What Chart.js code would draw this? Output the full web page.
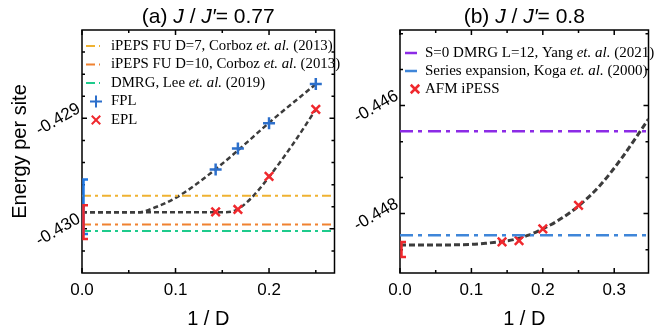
<!DOCTYPE html>
<html>
<head>
<meta charset="utf-8">
<script src="https://cdn.jsdelivr.net/npm/chart.js@4.4.1/dist/chart.umd.min.js"></script>
<style>
  html, body { margin: 0; padding: 0; background: #fff; }
  #wrap { position: relative; width: 657px; height: 333px; overflow: hidden; }
  .panel { position: absolute; top: 0; }
  #pa { left: 0; }
  #pb { left: 343px; }
</style>
</head>
<body>
<div id="wrap">
  <div class="panel" id="pa"><canvas id="chartA" width="343" height="333"></canvas></div>
  <div class="panel" id="pb"><canvas id="chartB" width="314" height="333"></canvas></div>
</div>
<script>
// ---- panel (a): J/J' = 0.77 ----
const invD = [0.1429, 0.1667, 0.2, 0.25]
const fplA = [-0.429464, -0.429273, -0.429045, -0.428690]
const eplA = [-0.429847, -0.429825, -0.429526, -0.428919]
const fplFitX = [0, 0.03, 0.06, 0.08, 0.10, 0.12, 0.1429, 0.1667, 0.2, 0.25]
const fplFitY = [-0.42985, -0.42985, -0.42985, -0.42980, -0.42972, -0.42961, -0.42946, -0.42929, -0.42904, -0.42869]
const eplFitX = [0, 0.05, 0.10, 0.15, 0.165, 0.18, 0.2, 0.225, 0.25]
const eplFitY = [-0.42985, -0.42985, -0.42985, -0.42985, -0.42983, -0.42973, -0.42953, -0.42924, -0.42892]
const ePepsD7 = -0.42970
const ePepsD10 = -0.42996
const eDmrgLee = -0.43002
const spanA = [0, 0.27]
const errFplA = [-0.429553, -0.430046]
const errEplA = [-0.429787, -0.430092]
const xMajorA = [0, 0.1, 0.2]
const xMinorA = [0.05, 0.15, 0.25]
const yMajorA = [-0.430, -0.429]
const yMinorA = [-0.4302, -0.4298, -0.4296, -0.4294, -0.4292, -0.4288, -0.4286, -0.4284]

// ---- panel (b): J/J' = 0.8 ----
const afmX = [0.1429, 0.1667, 0.2, 0.25]
const afmY = [-0.448524, -0.448500, -0.448283, -0.447846]
const afmFitX = [0, 0.05, 0.10, 0.12, 0.14, 0.16, 0.18, 0.20, 0.22, 0.25, 0.28, 0.31, 0.348]
const afmFitY = [-0.44858, -0.44858, -0.44857, -0.44855, -0.44852, -0.44848, -0.44840, -0.44828, -0.44814, -0.44786, -0.44748, -0.44698, -0.44625]
const eDmrgYang = -0.446476
const eSeriesKoga = -0.448401
const spanB = [0, 0.348]
const errAfmB = [-0.448524, -0.448802]
const xMajorB = [0, 0.1, 0.2, 0.3]
const xMinorB = [0.05, 0.15, 0.25]
const yMajorB = [-0.448, -0.446]
const yMinorB = [-0.44867, -0.44733, -0.44667, -0.44533, -0.44467]

const SANS = "'Liberation Sans', Arial, sans-serif"
const SERIF = "'Liberation Serif', 'Times New Roman', serif"
const pts = (xs, ys) => xs.map((x, i) => ({ x, y: ys[i] }))
const hline = (span, v) => span.map(x => ({ x, y: v }))

function drawRich (ctx, text, x, y, size, family, center) {
  const runs = text.split(/<i>|<\/i>/).map((t, i) => ({ t, it: i % 2 === 1 }))
  const fontOf = r => (r.it ? 'italic ' : '') + size + 'px ' + family
  let w = 0
  runs.forEach(r => { ctx.font = fontOf(r); r.w = ctx.measureText(r.t).width; w += r.w })
  let cx = center ? x - w / 2 : x
  ctx.textAlign = 'left'
  ctx.textBaseline = 'middle'
  ctx.fillStyle = '#000'
  runs.forEach(r => { ctx.font = fontOf(r); ctx.fillText(r.t, cx, y); cx += r.w })
}

// box frame with inward ticks on all four sides
const frameTicks = {
  id: 'frameTicks',
  beforeDatasetsDraw (chart, args, opts) {
    const { ctx, chartArea: a, scales: { x, y } } = chart
    ctx.save()
    ctx.strokeStyle = '#000'
    ctx.lineWidth = 1.5
    ctx.strokeRect(a.left, a.top, a.right - a.left, a.bottom - a.top)
    const mark = (vals, len, horiz) => vals.forEach(v => {
      ctx.beginPath()
      if (horiz) {
        const px = x.getPixelForValue(v)
        ctx.moveTo(px, a.bottom); ctx.lineTo(px, a.bottom - len)
        ctx.moveTo(px, a.top); ctx.lineTo(px, a.top + len)
      } else {
        const py = y.getPixelForValue(v)
        ctx.moveTo(a.left, py); ctx.lineTo(a.left + len, py)
        ctx.moveTo(a.right, py); ctx.lineTo(a.right - len, py)
      }
      ctx.stroke()
    })
    mark(opts.xMajor, 5, true)
    mark(opts.xMinor, 3, true)
    mark(opts.yMajor, 5, false)
    mark(opts.yMinor, 3, false)
    ctx.restore()
  },
  // extrapolation error brackets at 1/D = 0
  afterDatasetsDraw (chart, args, opts) {
    const { ctx, chartArea: a, scales: { y } } = chart
    ctx.save()
    ctx.lineWidth = 2.5
    opts.errBars.forEach(e => {
      const top = y.getPixelForValue(e.vals[0])
      const bot = y.getPixelForValue(e.vals[1])
      const bx = a.left + 1.5
      ctx.strokeStyle = e.color
      ctx.beginPath()
      ctx.moveTo(bx + 4.5, top); ctx.lineTo(bx, top); ctx.lineTo(bx, bot); ctx.lineTo(bx + 4.5, bot)
      ctx.stroke()
    })
    ctx.restore()
  }
}

// legend + title with italic runs
const richText = {
  id: 'richText',
  afterDraw (chart, args, opts) {
    const { ctx, chartArea: a } = chart
    ctx.save()
    drawRich(ctx, opts.title, (a.left + a.right) / 2, 17.5, 21, SANS, true)
    chart.data.datasets.filter(d => d.label).forEach((ds, i) => {
      const y = opts.top + i * opts.gap
      ctx.setLineDash([])
      ctx.strokeStyle = ds.borderColor
      if (ds.showLine === false) {
        Chart.helpers.drawPoint(ctx, { pointStyle: ds.pointStyle, radius: ds.pointRadius, borderWidth: ds.pointBorderWidth }, opts.markerX, y)
      } else {
        ctx.lineWidth = ds.borderWidth
        ctx.setLineDash(ds.borderDash || [])
        ctx.beginPath(); ctx.moveTo(opts.left, y); ctx.lineTo(opts.left + opts.sample, y); ctx.stroke()
      }
      drawRich(ctx, ds.label, opts.textX, y, opts.size, SERIF, false)
    })
    ctx.restore()
  }
}

const refLine = (label, span, v, color, width, dash) => ({
  label, data: hline(span, v), borderColor: color, borderWidth: width, borderDash: dash, pointRadius: 0
})
const markers = (label, data, color, style) => ({
  label, data, showLine: false, borderColor: color, backgroundColor: color,
  pointStyle: style, pointRadius: 6, pointBorderWidth: 2.5
})
const fitLine = (data, dash, width) => ({
  data, borderColor: '#3c3c3c', borderWidth: width, borderDash: dash, pointRadius: 0, cubicInterpolationMode: 'monotone'
})

function axes (xr, yr, xMaj, yMaj, yWidth, yTitle) {
  const tickFont = { family: SANS, size: 17 }
  return {
    x: {
      type: 'linear', min: xr[0], max: xr[1],
      grid: { display: false, drawTicks: false }, border: { display: false },
      afterBuildTicks: s => { s.ticks = xMaj.map(v => ({ value: v })) },
      afterFit: s => { s.height = 60 },
      ticks: { font: tickFont, color: '#000', padding: 7, maxRotation: 0, autoSkip: false, callback: v => v.toFixed(1) },
      title: { display: true, text: '1 / D', color: '#000', font: { family: SANS, size: 20 }, padding: { top: 2, bottom: 2 } }
    },
    y: {
      type: 'linear', min: yr[0], max: yr[1],
      grid: { display: false, drawTicks: false }, border: { display: false },
      afterBuildTicks: s => { s.ticks = yMaj.map(v => ({ value: v })) },
      afterFit: s => { s.width = yWidth },
      ticks: { font: tickFont, color: '#000', padding: 3, minRotation: 30, maxRotation: 30, labelOffset: -11, autoSkip: false, callback: v => v.toFixed(3) },
      title: { display: !!yTitle, text: yTitle, color: '#000', font: { family: SANS, size: 20 }, padding: { top: 8, bottom: 0 } }
    }
  }
}

const baseOpts = { responsive: false, animation: false, events: [], plugins: { legend: { display: false }, tooltip: { enabled: false } } }

new Chart(document.getElementById('chartA'), { // eslint-disable-line
  type: 'line',
  data: {
    datasets: [
      refLine('iPEPS FU D=7, Corboz <i>et. al.</i> (2013)', spanA, ePepsD7, '#EFB232', 2, [9, 4, 3, 4]),
      refLine('iPEPS FU D=10, Corboz <i>et. al.</i> (2013)', spanA, ePepsD10, '#F08230', 2, [9, 4, 3, 4]),
      refLine('DMRG, Lee <i>et. al.</i> (2019)', spanA, eDmrgLee, '#1ECB8C', 2, [9, 4, 3, 4]),
      markers('FPL', pts(invD, fplA), '#2C6FCB', 'cross'),
      markers('EPL', pts(invD, eplA), '#F0282D', 'crossRot'),
      fitLine(pts(fplFitX, fplFitY), [5, 3], 2.5),
      fitLine(pts(eplFitX, eplFitY), [5, 3], 2.5)
    ]
  },
  options: {
    ...baseOpts,
    layout: { padding: { top: 30, right: 2, left: 0, bottom: 0 } },
    scales: axes(spanA, [-0.4304, -0.4282], xMajorA, yMajorA, 82, 'Energy per site'),
    plugins: {
      ...baseOpts.plugins,
      frameTicks: {
        xMajor: xMajorA, xMinor: xMinorA, yMajor: yMajorA, yMinor: yMinorA,
        errBars: [{ vals: errFplA, color: '#1E78E6' }, { vals: errEplA, color: '#F0282D' }]
      },
      richText: { title: '(a) <i>J</i> / <i>J′</i>= 0.77', top: 46, gap: 18.5, left: 86, sample: 14, markerX: 96, textX: 111, size: 14.8 }
    }
  },
  plugins: [frameTicks, richText]
})

new Chart(document.getElementById('chartB'), { // eslint-disable-line
  type: 'line',
  data: {
    datasets: [
      refLine('S=0 DMRG L=12, Yang <i>et. al.</i> (2021)', spanB, eDmrgYang, '#8C2BE6', 2.5, [13, 5, 4, 6]),
      refLine('Series expansion, Koga <i>et. al.</i> (2000)', spanB, eSeriesKoga, '#3F86D9', 2.5, [13, 5, 4, 6]),
      markers('AFM iPESS', pts(afmX, afmY), '#F0282D', 'crossRot'),
      fitLine(pts(afmFitX, afmFitY), [6, 3], 3)
    ]
  },
  options: {
    ...baseOpts,
    layout: { padding: { top: 30, right: 0, left: 0, bottom: 0 } },
    scales: axes(spanB, [-0.4491, -0.4446], xMajorB, yMajorB, 57, ''),
    plugins: {
      ...baseOpts.plugins,
      frameTicks: {
        xMajor: xMajorB, xMinor: xMinorB, yMajor: yMajorB, yMinor: yMinorB,
        errBars: [{ vals: errAfmB, color: '#F0282D' }]
      },
      richText: { title: '(b) <i>J</i> / <i>J′</i>= 0.8', top: 53, gap: 18, left: 62, sample: 12, markerX: 72, textX: 82, size: 15 }
    }
  },
  plugins: [frameTicks, richText]
})
</script>
</body>
</html>
